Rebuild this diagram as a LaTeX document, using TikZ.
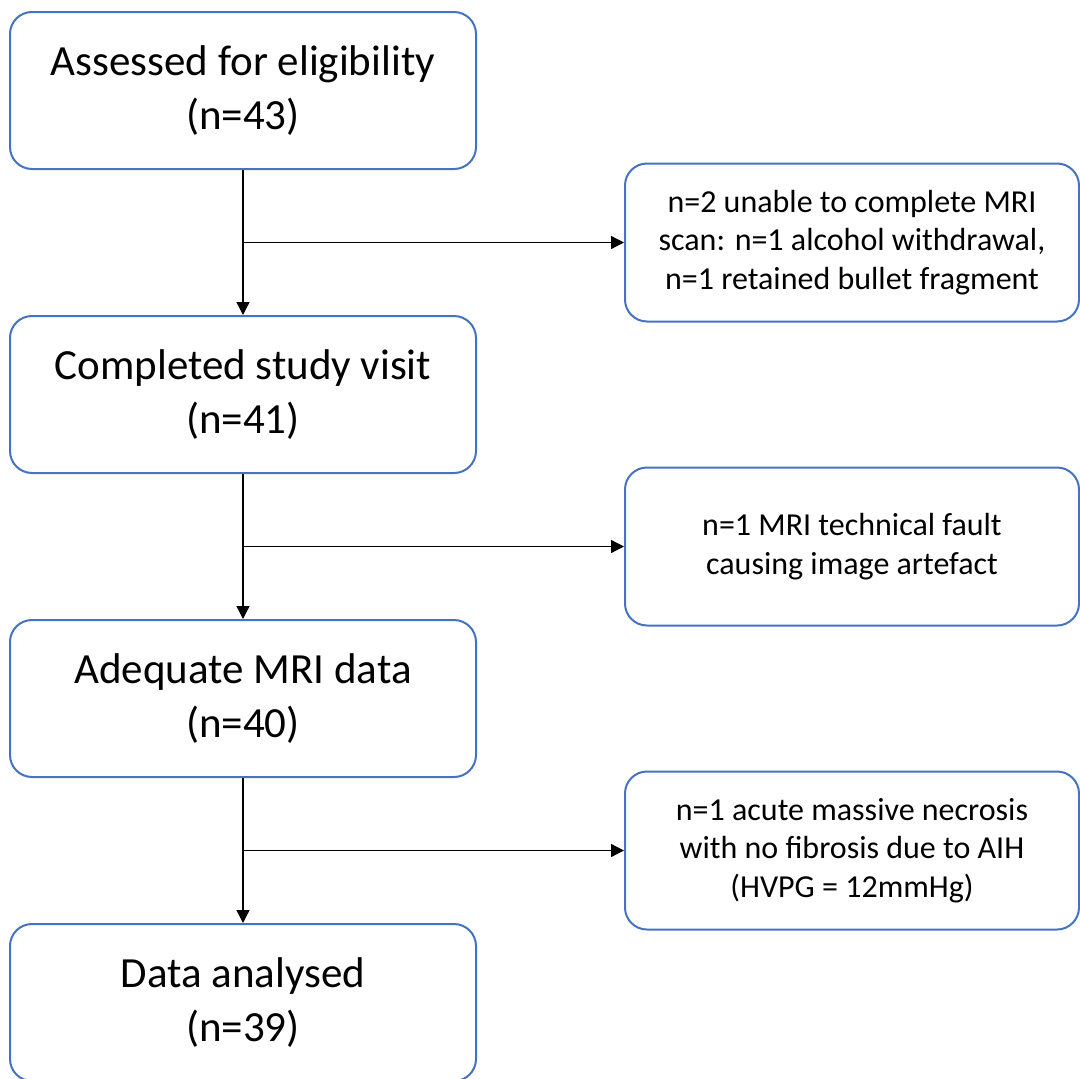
\documentclass[tikz,border=0pt]{standalone}
\usepackage{fontspec}
\setmainfont{Carlito}
\usetikzlibrary{positioning,calc,arrows.meta}
\definecolor{boxblue}{HTML}{4472C4}
\tikzset{
    block/.style = {draw=boxblue, line width=2pt, rectangle, rounded corners=22pt,
        minimum height=157pt, minimum width=466pt, align=center,
        font=\fontsize{43}{54}\selectfont},
    sidebox/.style = {draw=boxblue, line width=2pt, rectangle, rounded corners=22pt,
        minimum height=158pt, minimum width=454pt, align=center,
        font=\fontsize{32}{38.5}\selectfont},
    arrow/.style = {draw, line width=1.3pt, -{Triangle[length=13pt,width=13pt]}}
}

\begin{document}
\begin{tikzpicture}[node distance=145pt]
    \useasboundingbox (0,0) rectangle (1080pt,-1079pt);
    \node [block] (assess) at (243pt,-90.5pt) {Assessed for eligibility\\(n=43)};
    \node [block, below=of assess] (visit) {Completed study visit\\(n=41)};
    \node [block, below=of visit] (mri) {Adequate MRI data\\(n=40)};
    \node [block, below=of mri] (analysed) {Data analysed\\(n=39)};
    % exclusions, halfway between the boxes on the left
    \node [sidebox] (excl1) at ($(assess)!0.5!(visit) + (609pt,0)$) {n=2 unable to complete MRI\\scan: n=1 alcohol withdrawal,\\n=1 retained bullet fragment};
    \node [sidebox] (excl2) at ($(visit)!0.5!(mri) + (609pt,0)$) {n=1 MRI technical fault\\causing image artefact};
    \node [sidebox] (excl3) at ($(mri)!0.5!(analysed) + (609pt,0)$) {n=1 acute massive necrosis\\with no fibrosis due to AIH\\(HVPG = 12mmHg)};
    \coordinate (br1) at (assess.south |- excl1.west);
    \coordinate (br2) at (visit.south |- excl2.west);
    \coordinate (br3) at (mri.south |- excl3.west);
    \draw [arrow] (assess) -- (visit);
    \draw [arrow] (visit) -- (mri);
    \draw [arrow] (mri) -- (analysed);
    \draw [arrow] (br1) -- (excl1);
    \draw [arrow] (br2) -- (excl2);
    \draw [arrow] (br3) -- (excl3);
\end{tikzpicture}
\end{document}
